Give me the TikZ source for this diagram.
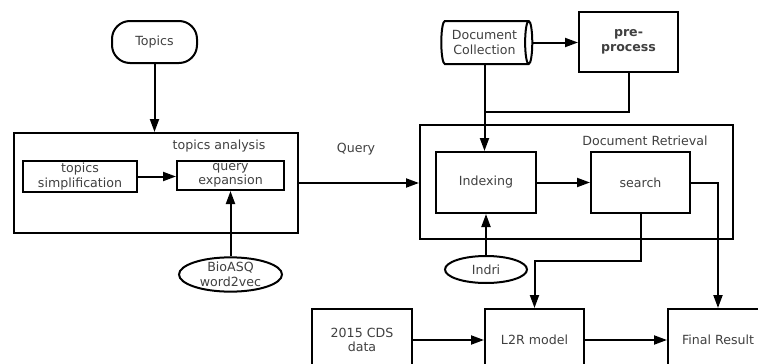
\documentclass[tikz,border=0pt]{standalone}
\usepackage{fontspec}
\setmainfont{DejaVu Sans}
\usetikzlibrary{shapes.geometric,arrows.meta}
\tikzset{
  txt/.style={font=\fontsize{12.6}{14.5}\selectfont, text=black!75, align=center},
  box/.style={txt, draw, line width=2pt, inner sep=0pt},
  oval/.style={box, ellipse},
  arr/.style={line width=2pt, -{Triangle[length=13pt,width=9pt]}},
  ln/.style={line width=2pt}
}
\begin{document}
\begin{tikzpicture}[x=1pt,y=-1pt]
\useasboundingbox (0,0) rectangle (758,364);
\clip (0,0) rectangle (758,364);
\fill[white] (0,0) rectangle (758,364);

% query side
\node[box, rounded corners=18pt, minimum width=85pt, minimum height=42pt] (topics) at (154.5,42) {Topics};
\node[box, minimum width=284pt, minimum height=100pt] (ta) at (156,183) {};
\node[txt] (talabel) at (219,146) {topics analysis};
\node[box, minimum width=114pt, minimum height=31pt] (tsimp) at (80,176.5) {topics\\simplification};
\node[box, minimum width=107pt, minimum height=29pt] (qexp) at (230.5,175.5) {query\\expansion};
\node[oval, minimum width=103pt, minimum height=31pt] (bio) at (230.5,274.5) {BioASQ\\word2vec};
\node[txt] (query) at (356,149) {Query};

% retrieval side
\node[box, minimum width=313pt, minimum height=114pt] (dr) at (576.5,182) {};
\node[txt] (drlabel) at (645,141) {Document Retrieval};
\node[box, minimum width=100pt, minimum height=61pt] (idx) at (486,182.5) {Indexing};
\node[box, minimum width=99pt, minimum height=61pt] (srch) at (640.5,182.5) {search};
\node[box, cylinder, aspect=0.3, minimum height=91pt, minimum width=43pt] (coll) at (484.5,42.5) {Document\\Collection};
\node[box, minimum width=99pt, minimum height=60pt, font=\fontsize{12.6}{14.5}\selectfont\bfseries] (pre) at (628.5,42) {pre-\\process};
\node[oval, minimum width=82pt, minimum height=27pt] (indri) at (486,269.5) {Indri};

% ranking row
\node[box, minimum width=100pt, minimum height=62pt] (cds) at (362,340) {2015 CDS\\data};
\node[box, minimum width=99pt, minimum height=62pt] (l2r) at (534.5,340) {L2R model};
\node[box, minimum width=100pt, minimum height=62pt] (fin) at (718,340) {Final Result};

\coordinate (lvl) at (0,261);
\coordinate (mid) at (0,112);

% connectors
\draw[arr] (topics.south) -- (topics.south |- ta.north);
\draw[arr] (tsimp.east) -- (tsimp.east -| qexp.west);
\draw[arr] (bio.north) -- (qexp.south);
\draw[arr] (ta.east) -- (ta.east -| dr.west);
\draw[arr] (idx.east) -- (srch.west);
\draw[arr] (coll.east) -- (coll.east -| pre.west);
\draw[ln] (pre.south) |- (coll.south |- mid);
\draw[arr] (coll.south) -- (coll.south |- idx.north);
\draw[arr] (indri.north) -- (idx.south);
\draw[arr] (srch.south) -- (srch.south |- lvl) -| (l2r.north);
\draw[arr] (srch.east) -| (fin.north);
\draw[arr] (cds.east) -- (l2r.west);
\draw[arr] (l2r.east) -- (fin.west);
\end{tikzpicture}
\end{document}
